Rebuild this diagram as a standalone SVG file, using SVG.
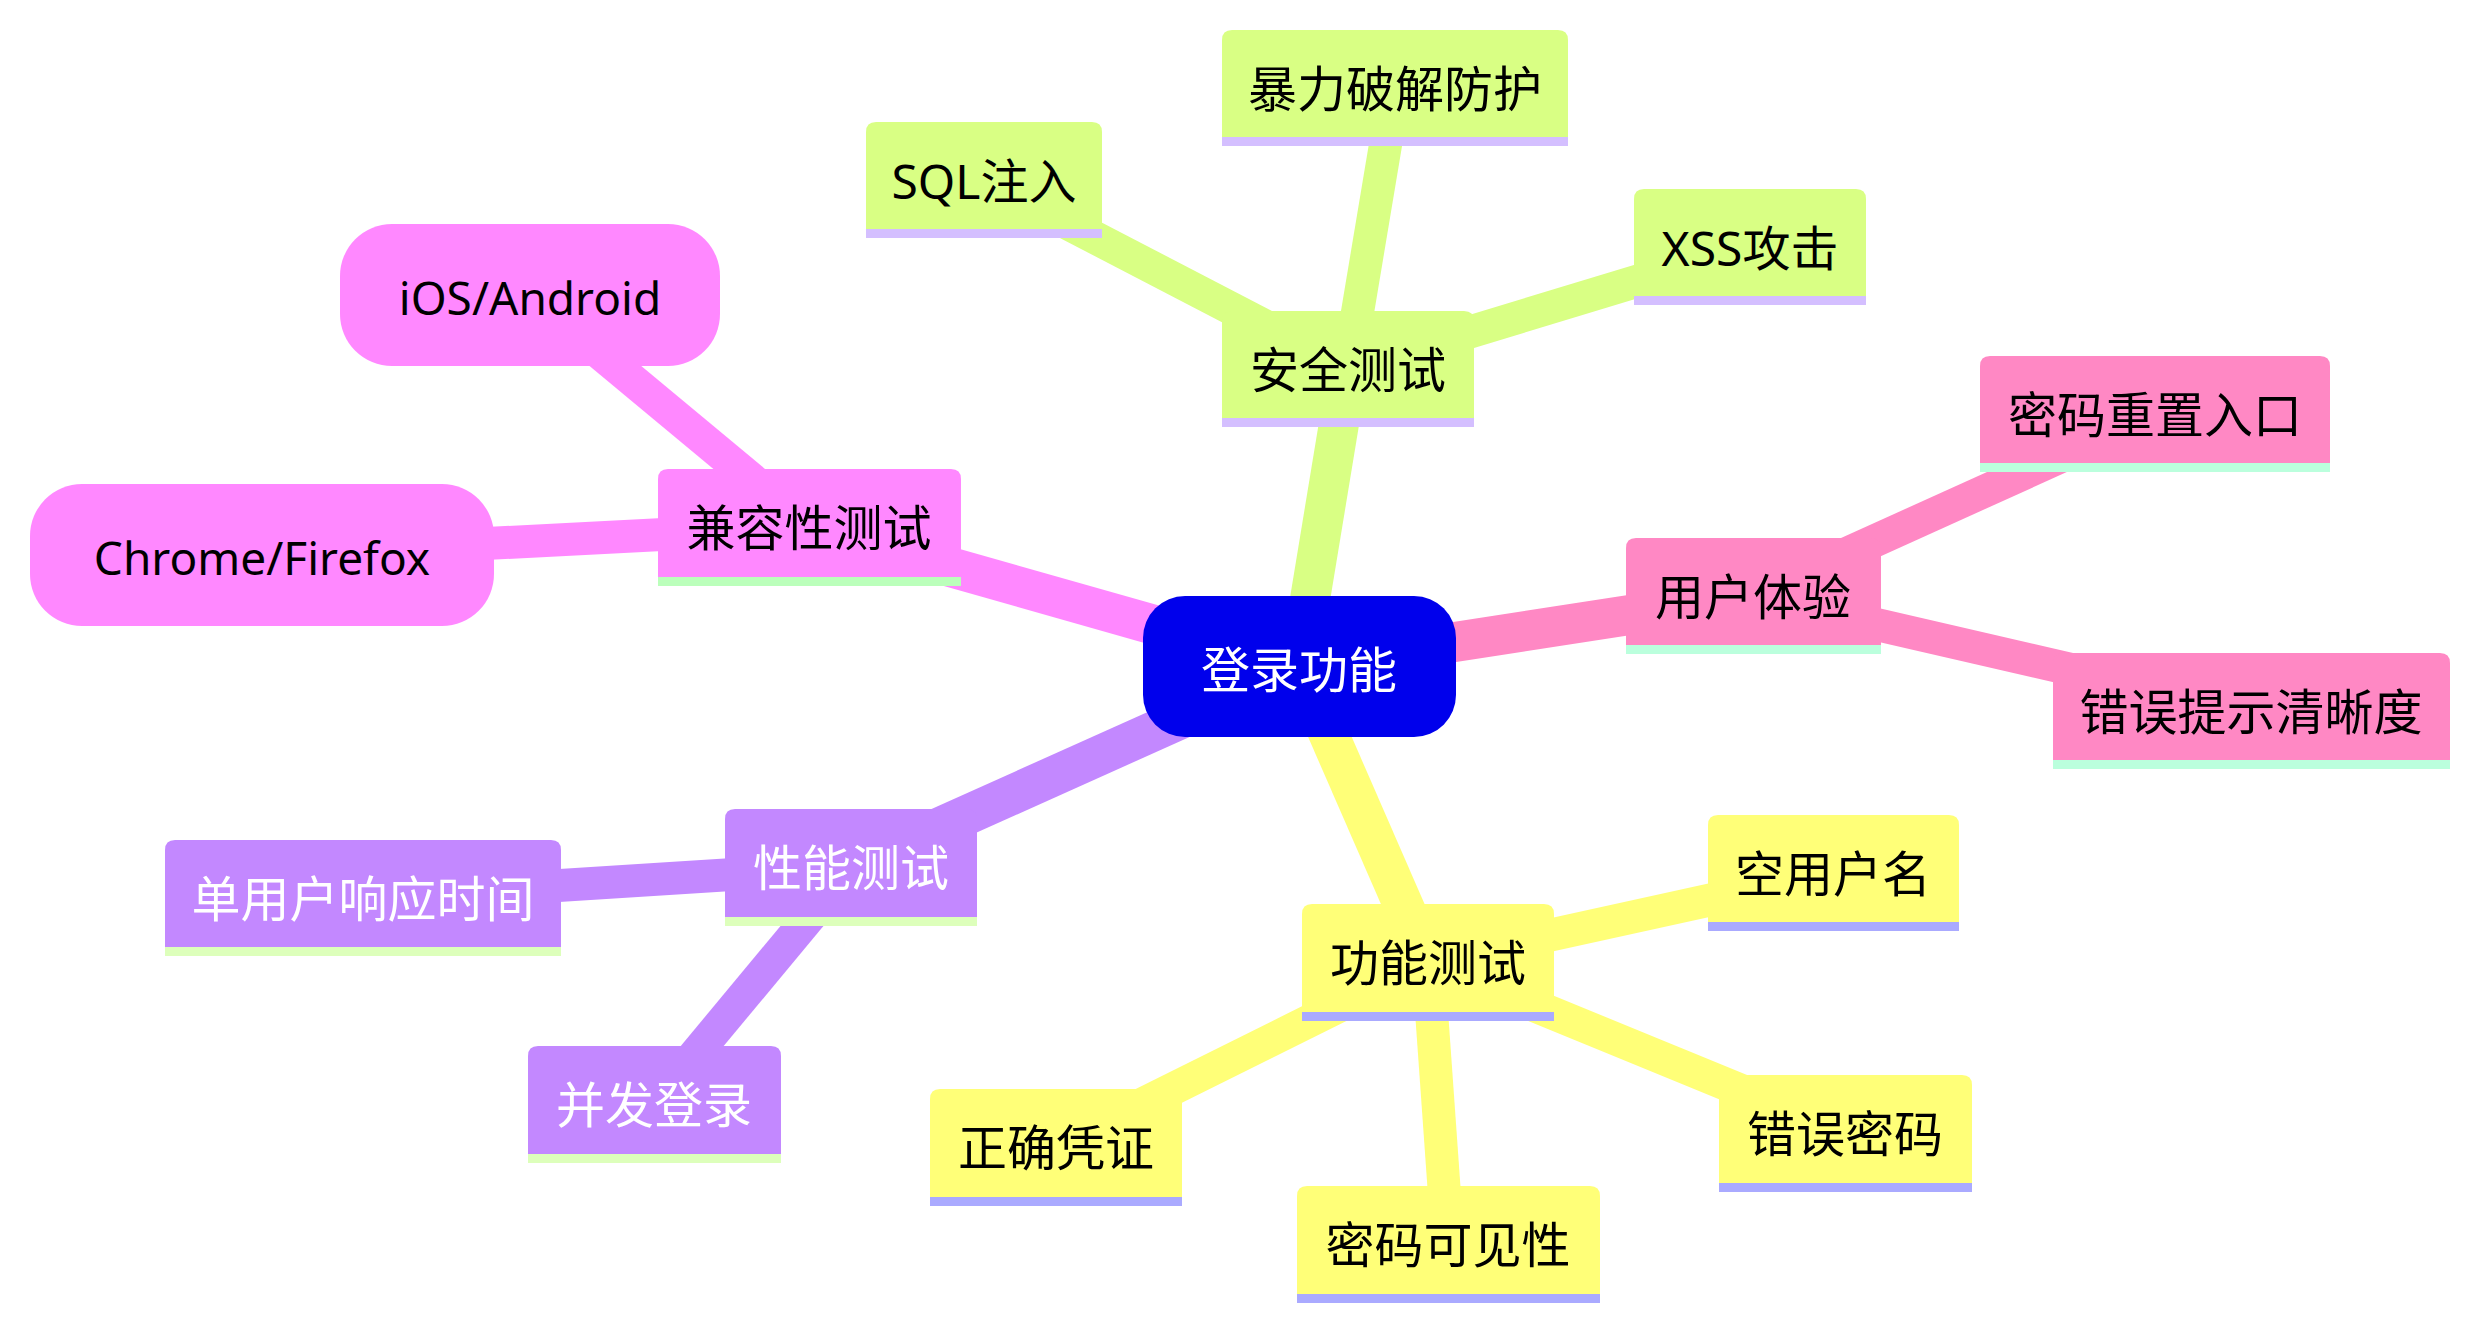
<svg xmlns="http://www.w3.org/2000/svg" width="2480" height="1328" viewBox="0 0 2480 1328">
<style>
text{font-family:"Noto Sans","Noto Sans CJK SC",sans-serif;font-size:49px;text-anchor:middle;fill:#000}
.lat{font-size:46px}
.mix{font-size:48px}
.w{fill:#fff}
.e0{stroke-width:40;fill:none;stroke-linecap:butt}
.e1{stroke-width:33;fill:none;stroke-linecap:butt}
.sec{stroke:#D9FF84}.ux{stroke:#FF88C4}.cmp{stroke:#FF88FF}.prf{stroke:#C388FF}.fn{stroke:#FFFF78}
.fsec{fill:#D9FF84}.fux{fill:#FF88C4}.fcmp{fill:#FF88FF}.fprf{fill:#C388FF}.ffn{fill:#FFFF78}
.usec{fill:#D4BFFF}.uux{fill:#BBFFDD}.ucmp{fill:#BBFFBB}.uprf{fill:#DDFFBB}.ufn{fill:#AAAAFF}
</style>
<rect width="2480" height="1328" fill="#fff"/>
<g id="connectors">
<line class="e0 sec" x1="1299" y1="666" x2="1348" y2="369"/>
<line class="e0 ux" x1="1299" y1="666" x2="1753" y2="596"/>
<line class="e0 cmp" x1="1299" y1="666" x2="809" y2="527"/>
<line class="e0 prf" x1="1299" y1="666" x2="851" y2="867"/>
<line class="e0 fn" x1="1299" y1="666" x2="1428" y2="962"/>
<line class="e1 sec" x1="1348" y1="369" x2="1395" y2="88"/>
<line class="e1 sec" x1="1348" y1="369" x2="984" y2="180"/>
<line class="e1 sec" x1="1348" y1="369" x2="1750" y2="247"/>
<line class="e1 ux" x1="1753" y1="596" x2="2155" y2="414"/>
<line class="e1 ux" x1="1753" y1="596" x2="2251" y2="711"/>
<line class="e1 cmp" x1="809" y1="527" x2="530" y2="295"/>
<line class="e1 cmp" x1="809" y1="527" x2="262" y2="555"/>
<line class="e1 prf" x1="851" y1="867" x2="363" y2="898"/>
<line class="e1 prf" x1="851" y1="867" x2="654" y2="1104"/>
<line class="e1 fn" x1="1428" y1="962" x2="1833" y2="873"/>
<line class="e1 fn" x1="1428" y1="962" x2="1845" y2="1133"/>
<line class="e1 fn" x1="1428" y1="962" x2="1448" y2="1244"/>
<line class="e1 fn" x1="1428" y1="962" x2="1056" y2="1147"/>
</g>
<g id="root">
<rect x="1143" y="596" width="313" height="141" rx="42" fill="#0000EC"/>
<text class="w" x="1299" y="688">登录功能</text>
</g>
<g id="n-security">
<path class="fsec" d="M1222,418V321Q1222,311 1232,311H1464Q1474,311 1474,321V418Z"/>
<rect class="usec" x="1222" y="418" width="252" height="9"/>
<text x="1348" y="388">安全测试</text>
</g>
<g id="n-brute">
<path class="fsec" d="M1222,137V40Q1222,30 1232,30H1558Q1568,30 1568,40V137Z"/>
<rect class="usec" x="1222" y="137" width="346" height="9"/>
<text x="1395" y="107">暴力破解防护</text>
</g>
<g id="n-sql">
<path class="fsec" d="M866,229V132Q866,122 876,122H1092Q1102,122 1102,132V229Z"/>
<rect class="usec" x="866" y="229" width="236" height="9"/>
<text class="mix" x="984" y="199">SQL注入</text>
</g>
<g id="n-xss">
<path class="fsec" d="M1634,296V199Q1634,189 1644,189H1856Q1866,189 1866,199V296Z"/>
<rect class="usec" x="1634" y="296" width="232" height="9"/>
<text class="mix" x="1750" y="266">XSS攻击</text>
</g>
<g id="n-ux">
<path class="fux" d="M1626,645V548Q1626,538 1636,538H1871Q1881,538 1881,548V645Z"/>
<rect class="uux" x="1626" y="645" width="255" height="9"/>
<text x="1753" y="615">用户体验</text>
</g>
<g id="n-reset">
<path class="fux" d="M1980,463V366Q1980,356 1990,356H2320Q2330,356 2330,366V463Z"/>
<rect class="uux" x="1980" y="463" width="350" height="9"/>
<text x="2155" y="433">密码重置入口</text>
</g>
<g id="n-errmsg">
<path class="fux" d="M2053,760V663Q2053,653 2063,653H2440Q2450,653 2450,663V760Z"/>
<rect class="uux" x="2053" y="760" width="397" height="9"/>
<text x="2251" y="730">错误提示清晰度</text>
</g>
<g id="n-compat">
<path class="fcmp" d="M658,577V479Q658,469 668,469H951Q961,469 961,479V577Z"/>
<rect class="ucmp" x="658" y="577" width="303" height="9"/>
<text x="809" y="546">兼容性测试</text>
</g>
<g id="n-ios">
<rect class="fcmp" x="340" y="224" width="380" height="142" rx="52"/>
<text class="lat" x="530" y="315">iOS/Android</text>
</g>
<g id="n-chrome">
<rect class="fcmp" x="30" y="484" width="464" height="142" rx="52"/>
<text class="lat" x="262" y="575">Chrome/Firefox</text>
</g>
<g id="n-perf">
<path class="fprf" d="M725,917V819Q725,809 735,809H967Q977,809 977,819V917Z"/>
<rect class="uprf" x="725" y="917" width="252" height="9"/>
<text class="w" x="851" y="886">性能测试</text>
</g>
<g id="n-single">
<path class="fprf" d="M165,947V850Q165,840 175,840H551Q561,840 561,850V947Z"/>
<rect class="uprf" x="165" y="947" width="396" height="9"/>
<text class="w" x="363" y="917">单用户响应时间</text>
</g>
<g id="n-concurrent">
<path class="fprf" d="M528,1154V1056Q528,1046 538,1046H771Q781,1046 781,1056V1154Z"/>
<rect class="uprf" x="528" y="1154" width="253" height="9"/>
<text class="w" x="654" y="1123">并发登录</text>
</g>
<g id="n-func">
<path class="ffn" d="M1302,1012V914Q1302,904 1312,904H1544Q1554,904 1554,914V1012Z"/>
<rect class="ufn" x="1302" y="1012" width="252" height="9"/>
<text x="1428" y="981">功能测试</text>
</g>
<g id="n-emptyuser">
<path class="ffn" d="M1708,922V825Q1708,815 1718,815H1949Q1959,815 1959,825V922Z"/>
<rect class="ufn" x="1708" y="922" width="251" height="9"/>
<text x="1833" y="892">空用户名</text>
</g>
<g id="n-wrongpwd">
<path class="ffn" d="M1719,1183V1085Q1719,1075 1729,1075H1962Q1972,1075 1972,1085V1183Z"/>
<rect class="ufn" x="1719" y="1183" width="253" height="9"/>
<text x="1845" y="1152">错误密码</text>
</g>
<g id="n-pwdvisible">
<path class="ffn" d="M1297,1294V1196Q1297,1186 1307,1186H1590Q1600,1186 1600,1196V1294Z"/>
<rect class="ufn" x="1297" y="1294" width="303" height="9"/>
<text x="1448" y="1263">密码可见性</text>
</g>
<g id="n-correct">
<path class="ffn" d="M930,1197V1099Q930,1089 940,1089H1172Q1182,1089 1182,1099V1197Z"/>
<rect class="ufn" x="930" y="1197" width="252" height="9"/>
<text x="1056" y="1166">正确凭证</text>
</g>
</svg>
